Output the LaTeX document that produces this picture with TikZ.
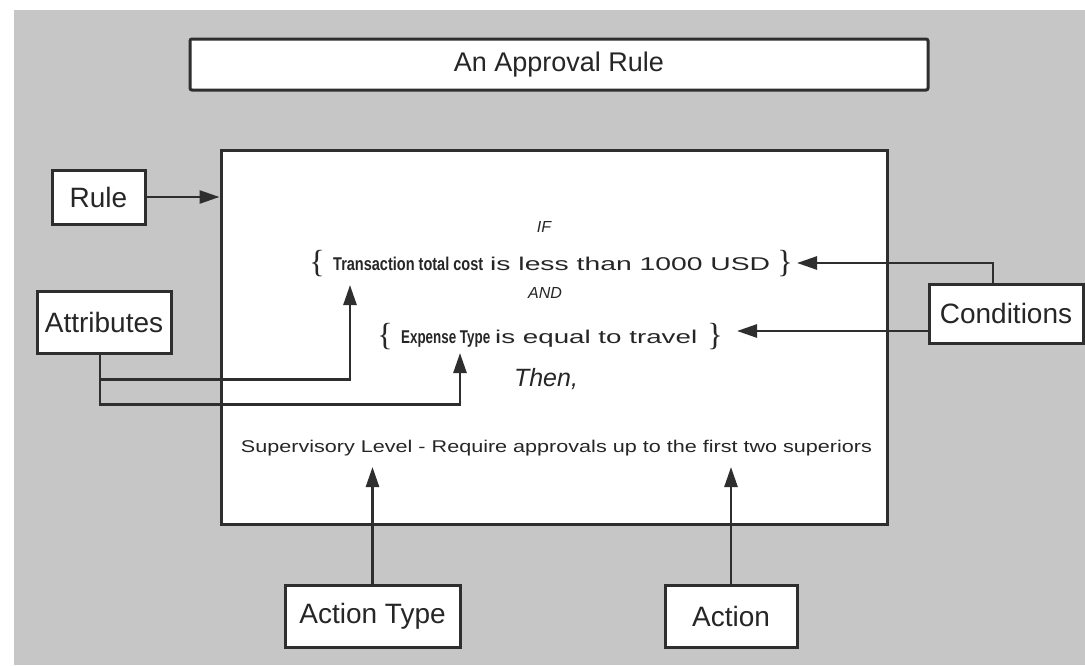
\documentclass[tikz,border=0pt]{standalone}
\usepackage{fontspec}
\usepackage{graphicx}
\setmainfont{Liberation Sans}
\newfontfamily\bracefont{Liberation Serif}
\usetikzlibrary{arrows.meta,calc}
\definecolor{bg}{HTML}{C6C6C6}
\definecolor{ln}{HTML}{2E2E2E}
\definecolor{tx}{HTML}{262626}
\begin{document}
\begin{tikzpicture}[x=1pt,y=-1pt,
  box/.style={draw=ln, line width=3pt, fill=white, inner sep=0pt, text=tx, font=\fontsize{28}{30}\selectfont},
  conn/.style={draw=ln, line width=2.6pt},
  arr/.style={conn, -{Triangle[length=20pt,width=13pt]}},
  small/.style={text=tx, inner sep=0pt, font=\fontsize{18.5}{20}\selectfont},
  ital/.style={text=tx, inner sep=0pt, font=\itshape\fontsize{16}{18}\selectfont},
  brace/.style={text=tx, inner sep=0pt, font=\bracefont\fontsize{32}{34}\selectfont},
]
\useasboundingbox (0,0) rectangle (1085,665);
\fill[white] (0,0) rectangle (1085,665);
\fill[bg] (14,10) rectangle (1085,665);

% boxes
\node[box, minimum width=738pt, minimum height=51pt, rounded corners=2pt, font=\fontsize{27}{29}\selectfont] (title) at (559,64.5) {An Approval Rule};
\node[box, minimum width=666pt, minimum height=374pt] (main) at (554,337) {};
\node[box, minimum width=93pt, minimum height=54pt] (rule) at (98.5,197) {Rule};
\node[box, minimum width=134pt, minimum height=62pt] (attr) at (104,322) {Attributes};
\node[box, minimum width=154pt, minimum height=59pt] (cond) at (1006,313.5) {Conditions};
\node[box, minimum width=175pt, minimum height=62pt] (atype) at (372.5,616) {Action Type};
\node[box, minimum width=132pt, minimum height=62pt] (action) at (731,616) {Action};

% rule text
\node[ital] (if) at (544,227) {IF};
\node[brace] (b1l) at (317,264) {\{};
\node[small, anchor=base west] (c1b) at (333,270.5) {\resizebox{150pt}{\height}{\bfseries Transaction total cost}};
\node[small, anchor=base west] (c1n) at (490,270.5) {\resizebox{280pt}{\height}{is less than 1000 USD}};
\node[brace] (b1r) at (785,264) {\}};
\node[ital] (and) at (545,293) {AND};
\node[brace] (b2l) at (385,337) {\{};
\node[small, anchor=base west] (c2b) at (401,343.5) {\resizebox{89pt}{\height}{\bfseries Expense Type}};
\node[small, anchor=base west] (c2n) at (495,343.5) {\resizebox{202pt}{\height}{is equal to travel}};
\node[brace] (b2r) at (715,337) {\}};
\node[text=tx, inner sep=0pt, font=\itshape\fontsize{25}{27}\selectfont] (then) at (546,379) {Then,};
\node[small, anchor=base, font=\fontsize{17}{19}\selectfont] (act) at (556.5,452) {\resizebox{631pt}{\height}{Supervisory Level - Require approvals up to the first two superiors}};

% arrow targets
\coordinate (t1) at (350,285);
\coordinate (t2) at (460,353);
\coordinate (t3) at (797,263);
\coordinate (t4) at (737,331);
\coordinate (t5) at (372.5,467);
\coordinate (t6) at (731,467);

% connectors
\draw[arr] (rule.east) -- (rule.east -| main.west);
\draw[arr] ($(attr.south)+(-4,0)$) -- ++(0,25) -| (t1);
\draw[arr] ($(attr.south)+(-4,0)$) -- ++(0,50) -| (t2);
\draw[arr] ($(cond.north)+(-13,0)$) |- (t3);
\draw[arr] (cond.west |- t4) -- (t4);
\draw[arr] (atype.north) -- (t5);
\draw[arr] (action.north) -- (t6);
\end{tikzpicture}
\end{document}
